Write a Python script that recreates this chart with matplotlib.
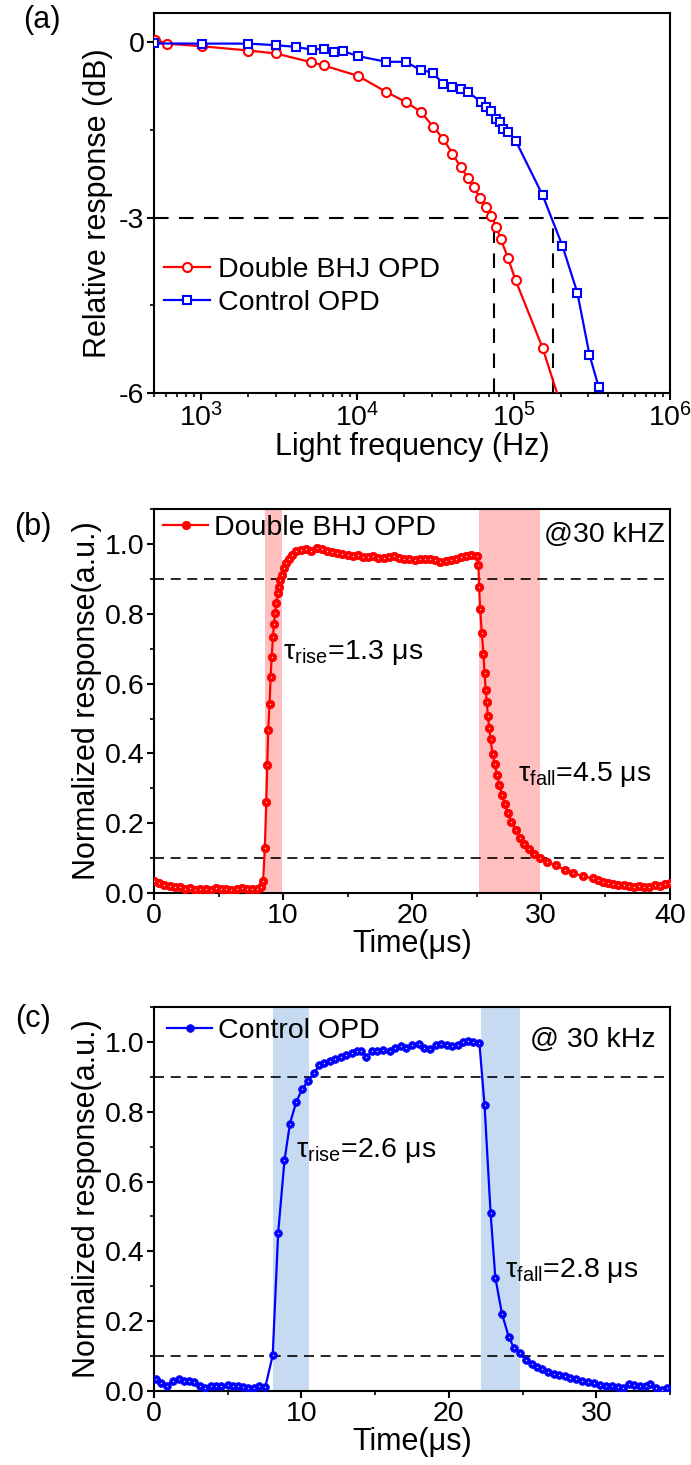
# -*- coding: utf-8 -*-
"""
Frequency response (a) and transient response (b, c) of the OPDs.
Output: out.png
"""
import numpy as np
import matplotlib
matplotlib.use('Agg')
from matplotlib import pyplot as plt
from matplotlib.ticker import MultipleLocator, LogLocator, NullFormatter

##############################################################################
# DATA
##############################################################################

# (a) relative response vs light frequency
freq_bhj = [510, 604, 1007, 2009, 3020, 5036, 6085, 10140, 15270, 20320, 25470,
            30470, 35480, 40550, 45830, 51040, 55620, 60980, 66530, 71870,
            77630, 82560, 91920, 102800, 153100, 200000]
db_bhj = [0.045, -0.023, -0.068, -0.141, -0.192, -0.34, -0.396, -0.577, -0.849,
          -1.019, -1.188, -1.443, -1.653, -1.907, -2.134, -2.320, -2.473, -2.671,
          -2.824, -2.965, -3.164, -3.362, -3.690, -4.069, -5.229, -6.2]

freq_ctrl = [500, 1007, 2009, 3020, 4046, 5093, 6085, 7100, 8110, 10140, 15270,
             20320, 25470, 30470, 35480, 40550, 45830, 51040, 61600, 66530,
             71870, 77630, 81650, 85940, 91920, 102800, 153100, 204900, 255400,
             305500, 350000, 380000]
db_ctrl = [-0.02, -0.023, -0.023, -0.05, -0.079, -0.125, -0.113, -0.164, -0.153,
           -0.238, -0.334, -0.334, -0.475, -0.521, -0.719, -0.758, -0.804, -0.849,
           -1.019, -1.104, -1.183, -1.313, -1.370, -1.483, -1.528, -1.681, -2.615,
           -3.480, -4.284, -5.348, -5.9, -6.6]

f3db_bhj = 74500
f3db_ctrl = 178000

# (b) Double BHJ OPD transient response
t_bhj = [0.0, 0.4, 0.8, 1.2, 1.6, 2.0, 2.4, 2.8, 3.2, 3.6, 4.0, 4.4, 4.8, 5.2,
         5.6, 6.0, 6.4, 6.8, 7.2, 7.6, 8.0, 8.3,
         8.46, 8.59, 8.70, 8.78, 8.85, 8.96, 9.04, 9.12, 9.22, 9.30, 9.38, 9.48,
         9.61, 9.69, 9.80, 9.95, 10.08, 10.22, 10.43, 10.69, 11.0,
         11.4, 11.8, 12.2, 12.6, 13.0, 13.4, 13.8, 14.2, 14.6, 15.0, 15.4, 15.8,
         16.2, 16.6, 17.0, 17.4, 17.8, 18.2, 18.6, 19.0, 19.4, 19.8, 20.2, 20.6,
         21.0, 21.4, 21.8, 22.2, 22.6, 23.0, 23.4, 23.8, 24.2, 24.6, 25.0,
         25.15, 25.2, 25.28, 25.41, 25.54, 25.62, 25.72, 25.80, 25.88, 25.99,
         26.09, 26.25, 26.40, 26.59, 26.77, 26.98, 27.19, 27.45, 27.71, 28.03,
         28.37, 28.68, 29.08, 29.47, 29.94, 30.5, 31.17, 31.83, 32.48, 33.27,
         34.05, 34.4, 34.8, 35.2, 35.6, 36.0, 36.4, 36.8, 37.2, 37.6, 38.0, 38.4,
         38.8, 39.2, 39.6, 40.0]
v_bhj = [0.035, 0.030, 0.022, 0.020, 0.016, 0.018, 0.012, 0.015, 0.010, 0.013,
         0.012, 0.010, 0.014, 0.011, 0.013, 0.010, 0.012, 0.014, 0.011, 0.012,
         0.013, 0.018,
         0.035, 0.13, 0.26, 0.368, 0.466, 0.543, 0.618, 0.676, 0.733, 0.770,
         0.801, 0.830, 0.859, 0.876, 0.897, 0.912, 0.931, 0.945, 0.957, 0.969,
         0.979,
         0.982, 0.986, 0.980, 0.988, 0.985, 0.981, 0.977, 0.974, 0.970, 0.968,
         0.966, 0.969, 0.964, 0.962, 0.965, 0.960, 0.961, 0.964, 0.966, 0.960,
         0.956, 0.958, 0.955, 0.957, 0.956, 0.958, 0.954, 0.948, 0.950, 0.955,
         0.958, 0.962, 0.965, 0.968, 0.965,
         0.94, 0.878, 0.815, 0.745, 0.685, 0.63, 0.581, 0.546, 0.507, 0.472,
         0.44, 0.397, 0.37, 0.339, 0.31, 0.281, 0.254, 0.228, 0.204, 0.18,
         0.158, 0.141, 0.125, 0.113, 0.1, 0.088, 0.079, 0.067, 0.058, 0.048,
         0.042, 0.038, 0.032, 0.028, 0.025, 0.022, 0.024, 0.020, 0.018, 0.020,
         0.016, 0.018, 0.022, 0.020, 0.025, 0.030]

# (c) Control OPD transient response
t_ctrl = [0.11, 0.46, 0.87, 1.26, 1.72, 2.06, 2.40, 2.74, 3.09, 3.43, 3.84,
          4.23, 4.57, 4.99, 5.38, 5.72, 6.06, 6.40, 6.75, 7.09, 7.55, 8.05,
          8.42, 8.85, 9.22, 9.65, 10.06, 10.45, 10.86, 11.21, 11.55, 11.94,
          12.31, 12.69, 13.04, 13.43, 13.79, 14.07, 14.41, 14.80, 15.14, 15.55,
          16.01, 16.35, 16.74, 17.09, 17.50, 17.96, 18.30, 18.71, 19.10, 19.49,
          19.90, 20.24, 20.59, 20.93, 21.27, 21.61, 22.07, 22.42, 22.83, 23.15,
          23.60, 24.06, 24.41, 24.82, 25.21, 25.62, 25.96, 26.30, 26.72, 27.10,
          27.49, 27.86, 28.25, 28.64, 29.05, 29.46, 29.85, 30.24, 30.65, 31.06,
          31.45, 31.79, 32.20, 32.59, 32.94, 33.35, 33.67, 34.03, 34.49, 34.77]
v_ctrl = [0.033, 0.023, 0.015, 0.028, 0.035, 0.030, 0.028, 0.025, 0.013, 0.009,
          0.013, 0.015, 0.015, 0.018, 0.015, 0.013, 0.012, 0.009, 0.009, 0.013,
          0.012, 0.102, 0.453, 0.661, 0.766, 0.829, 0.865, 0.889, 0.910, 0.934,
          0.939, 0.944, 0.952, 0.958, 0.963, 0.968, 0.973, 0.973, 0.958, 0.973,
          0.973, 0.977, 0.973, 0.982, 0.987, 0.982, 0.990, 0.994, 0.984, 0.980,
          0.990, 0.994, 0.992, 0.989, 0.992, 0.999, 1.003, 0.999, 0.997, 0.819,
          0.510, 0.325, 0.222, 0.155, 0.124, 0.109, 0.088, 0.076, 0.069, 0.063,
          0.054, 0.050, 0.047, 0.044, 0.037, 0.035, 0.028, 0.025, 0.023, 0.018,
          0.015, 0.015, 0.012, 0.009, 0.021, 0.018, 0.013, 0.015, 0.021, 0.009,
          0.004, 0.009]

# shaded 10-90 % windows (us)
band_rise_bhj = (8.6, 9.9)
band_fall_bhj = (25.2, 29.9)
band_rise_ctrl = (8.1, 10.5)
band_fall_ctrl = (22.2, 24.8)

##############################################################################
# STYLE
##############################################################################

plt.rcParams['font.family'] = ['Liberation Sans', 'DejaVu Sans']
plt.rcParams['mathtext.fontset'] = 'custom'
plt.rcParams['mathtext.rm'] = 'Liberation Sans'
plt.rcParams['mathtext.it'] = 'Liberation Sans'
plt.rcParams['mathtext.bf'] = 'Liberation Sans:bold'
plt.rcParams['axes.unicode_minus'] = False
plt.rcParams['axes.linewidth'] = 1.5

TICK_FS = 20.5
LABEL_FS = 22
TEXT_FS = 20.5

RED = '#FF0000'
BLUE = '#0000FF'


def style_axis(ax):
    ax.tick_params(which='major', direction='out', length=5, width=1.5,
                   labelsize=TICK_FS, pad=2, top=False, right=False)
    ax.tick_params(which='minor', direction='out', length=3, width=1.2,
                   top=False, right=False)


def sphere_plot(ax, x, y, color, label, ms):
    # Origin-like "sphere" symbols: filled disc with a small light highlight
    ax.plot(x, y, '-', color=color, lw=1.6, marker='o', ms=ms,
            mfc=color, mec=color, mew=0.6, label=label, zorder=3)
    ax.plot(x, y, 'o', ls='none', ms=1.0, mfc='white', mec='none',
            alpha=0.85, zorder=4)


fig = plt.figure(figsize=(6.91, 14.65), dpi=100)

##############################################################################
# (a) frequency response
##############################################################################

ax_a = fig.add_axes([0.2229, 0.7317, 0.7467, 0.2594])
ax_a.plot(freq_bhj, db_bhj, '-', color=RED, lw=1.6, marker='o', ms=6.5,
          mfc='white', mec=RED, mew=1.5, label='Double BHJ OPD', zorder=3)
ax_a.plot(freq_ctrl, db_ctrl, '-', color=BLUE, lw=1.6, marker='s', ms=5.8,
          mfc='white', mec=BLUE, mew=1.5, label='Control OPD', zorder=3)

dash_a = (0, (7, 5))
ax_a.axhline(-3, color='black', lw=1.5, ls=dash_a, zorder=2)
ax_a.plot([f3db_bhj, f3db_bhj], [-6, -3], color='black', lw=1.5, ls=dash_a, zorder=2)
ax_a.plot([f3db_ctrl, f3db_ctrl], [-6, -3], color='black', lw=1.5, ls=dash_a, zorder=2)

ax_a.set_xscale('log')
ax_a.set_xlim(500, 1e6)
ax_a.set_ylim(-6, 0.5)
ax_a.set_yticks([0, -3, -6])
ax_a.yaxis.set_minor_locator(MultipleLocator(1.5))
ax_a.xaxis.set_major_locator(LogLocator(base=10, numticks=10))
ax_a.xaxis.set_minor_locator(LogLocator(base=10, subs=np.arange(2, 10), numticks=20))
ax_a.xaxis.set_minor_formatter(NullFormatter())
style_axis(ax_a)
ax_a.set_xlabel('Light frequency (Hz)', fontsize=LABEL_FS, labelpad=0)
ax_a.set_ylabel('Relative response (dB)', fontsize=LABEL_FS, labelpad=4)
ax_a.legend(loc='center left', bbox_to_anchor=(0.02, 0.28), frameon=False,
            fontsize=TEXT_FS, handlelength=1.6, handletextpad=0.3,
            borderpad=0, borderaxespad=0, labelspacing=0.25)
fig.text(0.06, 0.9863, '(a)', fontsize=LABEL_FS, ha='center', va='center')

##############################################################################
# (b) Double BHJ OPD transient
##############################################################################

dash_bc = (0, (6, 4))

ax_b = fig.add_axes([0.2229, 0.3904, 0.7467, 0.2621])
ax_b.axvspan(*band_rise_bhj, color=RED, alpha=0.25, lw=0, zorder=1)
ax_b.axvspan(*band_fall_bhj, color=RED, alpha=0.25, lw=0, zorder=1)
ax_b.axhline(0.9, color='black', lw=1.2, ls=dash_bc, zorder=2)
ax_b.axhline(0.1, color='black', lw=1.2, ls=dash_bc, zorder=2)
sphere_plot(ax_b, t_bhj, v_bhj, RED, 'Double BHJ OPD', 6)

ax_b.set_xlim(0, 40)
ax_b.set_ylim(0, 1.1)
ax_b.xaxis.set_major_locator(MultipleLocator(10))
ax_b.xaxis.set_minor_locator(MultipleLocator(5))
ax_b.yaxis.set_minor_locator(MultipleLocator(0.1))
ax_b.set_yticks([0.0, 0.2, 0.4, 0.6, 0.8, 1.0])
ax_b.set_yticklabels(['0.0', '0.2', '0.4', '0.6', '0.8', '1.0'])
style_axis(ax_b)
ax_b.set_xlabel('Time(μs)', fontsize=LABEL_FS, labelpad=0)
ax_b.set_ylabel('Normalized response(a.u.)', fontsize=LABEL_FS, labelpad=2)
ax_b.legend(loc='center left', bbox_to_anchor=(0.017, 0.95), frameon=False,
            fontsize=TEXT_FS, handlelength=1.6, handletextpad=0.2,
            borderpad=0, borderaxespad=0)
ax_b.text(10.0, 0.69, r'$\mathregular{\tau_{rise}}$=1.3 μs', fontsize=TEXT_FS,
          ha='left', va='center')
ax_b.text(28.2, 0.34, r'$\mathregular{\tau_{fall}}$=4.5 μs', fontsize=TEXT_FS,
          ha='left', va='center')
ax_b.text(39.6, 1.025, '@30 kHZ', fontsize=TEXT_FS, ha='right', va='center')
fig.text(0.048, 0.6403, '(b)', fontsize=LABEL_FS, ha='center', va='center')

##############################################################################
# (c) Control OPD transient
##############################################################################

ax_c = fig.add_axes([0.2229, 0.0505, 0.7467, 0.2621])
ax_c.axvspan(*band_rise_ctrl, color='#C6DBF2', lw=0, zorder=1)
ax_c.axvspan(*band_fall_ctrl, color='#C6DBF2', lw=0, zorder=1)
ax_c.axhline(0.9, color='black', lw=1.2, ls=dash_bc, zorder=2)
ax_c.axhline(0.1, color='black', lw=1.2, ls=dash_bc, zorder=2)
sphere_plot(ax_c, t_ctrl, v_ctrl, BLUE, 'Control OPD', 5.5)

ax_c.set_xlim(0, 35)
ax_c.set_ylim(0, 1.1)
ax_c.xaxis.set_major_locator(MultipleLocator(10))
ax_c.xaxis.set_minor_locator(MultipleLocator(5))
ax_c.yaxis.set_minor_locator(MultipleLocator(0.1))
ax_c.set_yticks([0.0, 0.2, 0.4, 0.6, 0.8, 1.0])
ax_c.set_yticklabels(['0.0', '0.2', '0.4', '0.6', '0.8', '1.0'])
style_axis(ax_c)
ax_c.set_xlabel('Time(μs)', fontsize=LABEL_FS, labelpad=0)
ax_c.set_ylabel('Normalized response(a.u.)', fontsize=LABEL_FS, labelpad=2)
ax_c.legend(loc='center left', bbox_to_anchor=(0.025, 0.9375), frameon=False,
            fontsize=TEXT_FS, handlelength=1.6, handletextpad=0.2,
            borderpad=0, borderaxespad=0)
ax_c.text(9.65, 0.69, r'$\mathregular{\tau_{rise}}$=2.6 μs', fontsize=TEXT_FS,
          ha='left', va='center')
ax_c.text(23.8, 0.345, r'$\mathregular{\tau_{fall}}$=2.8 μs', fontsize=TEXT_FS,
          ha='left', va='center')
ax_c.text(34.0, 1.005, '@ 30 kHz', fontsize=TEXT_FS, ha='right', va='center')
fig.text(0.048, 0.3045, '(c)', fontsize=LABEL_FS, ha='center', va='center')

fig.savefig('out.png', dpi=100)
plt.close(fig)
